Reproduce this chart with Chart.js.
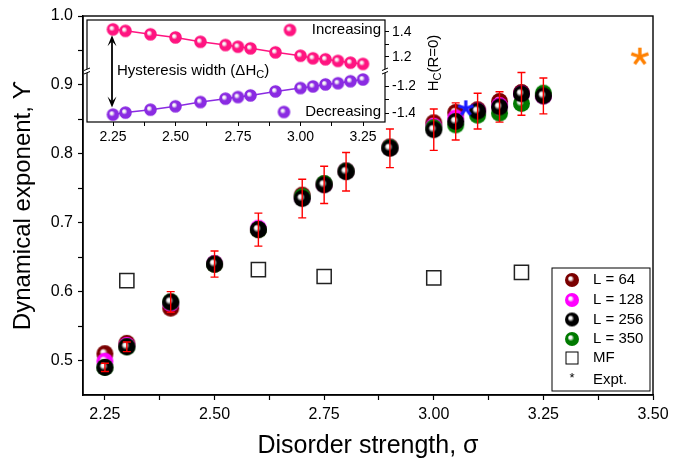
<!DOCTYPE html>
<html>
<head>
<meta charset="utf-8">
<script src="https://cdn.jsdelivr.net/npm/chart.js@4.4.1/dist/chart.umd.min.js"></script>
<style>
body{margin:0;background:#fff}
#wrap{position:relative;width:683px;height:459px}
#wrap canvas{position:absolute;left:0;top:0}
</style>
</head>
<body>
<div id="wrap">
<canvas id="mainChart" width="683" height="459"></canvas>
<canvas id="insetChart" width="683" height="459"></canvas>
</div>
<script>
// ---- data ----
const sigma = [2.25,2.30,2.40,2.50,2.60,2.70,2.75,2.80,2.90,3.00,3.05,3.10,3.15,3.20,3.25]
const gammaL64  = [0.510,0.525,0.576,0.640,0.690,0.740,0.756,0.775,0.810,0.845,0.860,0.864,0.876,0.889,0.885]
const gammaL128 = [0.499,0.522,0.583,0.641,0.692,0.737,0.756,0.775,0.809,0.840,0.852,0.862,0.870,0.887,0.884]
const gammaL256 = [0.490,0.520,0.585,0.640,0.690,0.735,0.755,0.774,0.808,0.835,0.847,0.862,0.868,0.887,0.884]
const gammaL350 = [0.490,0.520,0.585,0.640,0.690,0.738,0.757,0.775,0.809,0.838,0.842,0.856,0.859,0.873,0.888]
const errL256   = [0.006,0.007,0.015,0.019,0.024,0.028,0.027,0.028,0.028,0.030,0.027,0.026,0.022,0.031,0.026]

const sigmaMF = [2.30,2.60,2.75,3.00,3.20]
const gammaMF = [0.616,0.632,0.622,0.620,0.628]

const sigmaExpt = [3.073,3.47]
const gammaExpt = [0.866,0.941]

const xTicks = [2.25,2.50,2.75,3.00,3.25,3.50]
const yTicks = [0.5,0.6,0.7,0.8,0.9,1.0]

// inset: coercive field vs disorder
const hcIncreasing = [1.420,1.408,1.380,1.355,1.320,1.294,1.280,1.267,1.235,1.208,1.187,1.179,1.166,1.152,1.142]
const hcDecreasing = [-1.410,-1.395,-1.373,-1.348,-1.316,-1.291,-1.279,-1.267,-1.237,-1.212,-1.200,-1.185,-1.176,-1.161,-1.148]
const insetXTicks = [2.25,2.50,2.75,3.00,3.25]
const insetTopTicks = [1.2,1.3,1.4]
const insetBotTicks = [-1.4,-1.3,-1.2]
const insetTopLabels = [1.2,1.4]
const insetBotLabels = [-1.2,-1.4]

const FONT = 'Arial, "Liberation Sans", sans-serif'

function withMinors(ticks){
  let out = []
  for(let i=0;i<ticks.length;i++){
    out.push(ticks[i])
    if(i<ticks.length-1) out.push((ticks[i]+ticks[i+1])/2)
  }
  return out
}
function isIn(list, v){ return list.some(t => Math.abs(t-v) < 1e-6) }

function makeBall(color, r){
  const c = document.createElement('canvas')
  const s = Math.ceil(2*r+2)
  c.width = c.height = s
  const g = c.getContext('2d')
  const m = s/2
  const grad = g.createRadialGradient(m-r*0.3, m-r*0.28, 0, m, m, r)
  grad.addColorStop(0, '#ffffff')
  grad.addColorStop(0.2, '#f4f4f4')
  grad.addColorStop(0.48, color)
  grad.addColorStop(1, color)
  g.fillStyle = grad
  g.beginPath(); g.arc(m, m, r, 0, Math.PI*2); g.fill()
  return c
}

function makeStar(color, size, lw){
  const c = document.createElement('canvas')
  c.width = c.height = size+4
  const g = c.getContext('2d')
  const m = c.width/2
  g.strokeStyle = color; g.lineWidth = lw
  for(let k=0;k<5;k++){
    const a = k*2*Math.PI/5
    g.beginPath(); g.moveTo(m,m)
    g.lineTo(m+Math.sin(a)*size/2, m-Math.cos(a)*size/2)
    g.stroke()
  }
  return c
}

const ballL64 = makeBall('#7a0000', 8.5)
const ballL128 = makeBall('#ff00ff', 8.5)
const ballL256 = makeBall('#000000', 8.5)
const ballL350 = makeBall('#007a00', 8.5)
const starBlue = makeStar('#1a1aff', 16, 3.2)
const starOrange = makeStar('#ff8000', 18, 3.4)

const pts = (xs, ys) => xs.map((x,i) => ({x:x, y:ys[i]}))

// red error bars on the L = 256 series
const errorBars = {
  id:'errorBars',
  afterDatasetsDraw(chart){
    const {ctx, scales:{x, y}} = chart
    ctx.save()
    ctx.strokeStyle = '#ff0000'
    ctx.lineWidth = 1.4
    sigma.forEach((s,i) => {
      const px = x.getPixelForValue(s)
      const top = y.getPixelForValue(gammaL256[i]+errL256[i])
      const bot = y.getPixelForValue(gammaL256[i]-errL256[i])
      ctx.beginPath()
      ctx.moveTo(px, top); ctx.lineTo(px, bot)
      ctx.moveTo(px-4, top); ctx.lineTo(px+4, top)
      ctx.moveTo(px-4, bot); ctx.lineTo(px+4, bot)
      ctx.stroke()
    })
    ctx.restore()
  }
}

const frame = {
  id:'frame',
  afterDraw(chart){
    const {ctx, chartArea:a} = chart
    ctx.save()
    ctx.strokeStyle = '#000'; ctx.lineWidth = 1.4
    ctx.strokeRect(a.left, a.top, a.right-a.left, a.bottom-a.top)
    ctx.restore()
  }
}

const boxLegend = {
  id:'boxLegend',
  afterDraw(chart){
    const {ctx, chartArea:a} = chart
    const right = a.right-3, bottom = a.bottom-4
    const left = right-98, top = bottom-123
    ctx.save()
    ctx.fillStyle = '#fff'
    ctx.fillRect(left, top, right-left, bottom-top)
    ctx.strokeStyle = '#000'; ctx.lineWidth = 1
    ctx.strokeRect(left, top, right-left, bottom-top)
    const rows = [12, 32, 51.5, 71, 90, 112]
    ctx.font = '15px ' + FONT
    ctx.textBaseline = 'middle'
    chart.data.datasets.forEach((ds, i) => {
      const cy = top + rows[i], cx = left + 20
      if(ds.legendMark === 'ball'){
        const img = makeBall(ds.ballColor, 7)
        ctx.drawImage(img, cx-img.width/2, cy-img.height/2)
      } else if(ds.legendMark === 'square'){
        ctx.strokeStyle = '#000'; ctx.lineWidth = 1
        ctx.strokeRect(cx-6, cy-6, 12, 12)
      } else {
        ctx.fillStyle = '#000'
        ctx.textAlign = 'center'
        ctx.font = '13px ' + FONT
        ctx.fillText('*', cx, cy-2)
        ctx.font = '15px ' + FONT
      }
      ctx.fillStyle = '#000'
      ctx.textAlign = 'left'
      ctx.fillText(ds.label, left+41, cy)
    })
    ctx.restore()
  }
}

new Chart(document.getElementById('mainChart'), {
  type:'scatter',
  data:{
    datasets:[
      {label:'L = 64', data:pts(sigma, gammaL64), pointStyle:ballL64, pointRadius:8, order:4, legendMark:'ball', ballColor:'#7a0000'},
      {label:'L = 128', data:pts(sigma, gammaL128), pointStyle:ballL128, pointRadius:8, order:3, legendMark:'ball', ballColor:'#ff00ff'},
      {label:'L = 256', data:pts(sigma, gammaL256), pointStyle:ballL256, pointRadius:8, order:1, legendMark:'ball', ballColor:'#000000'},
      {label:'L = 350', data:pts(sigma, gammaL350), pointStyle:ballL350, pointRadius:8, order:2, legendMark:'ball', ballColor:'#007a00'},
      {label:'MF', data:pts(sigmaMF, gammaMF), pointStyle:'rect', pointRadius:10, backgroundColor:'#fff', borderColor:'#222', borderWidth:1.5, order:5, legendMark:'square'},
      {label:'Expt.', data:pts(sigmaExpt, gammaExpt), pointStyle:[starBlue, starOrange], pointRadius:8, order:0, legendMark:'star'}
    ]
  },
  options:{
    responsive:false,
    animation:false,
    layout:{padding:{top:16, right:30, left:0, bottom:0}},
    plugins:{legend:{display:false}, tooltip:{enabled:false}},
    scales:{
      x:{
        type:'linear', min:2.2, max:3.5,
        afterFit:s => { s.height = 64 },
        afterBuildTicks:s => { s.ticks = withMinors(xTicks).map(v => ({value:v})) },
        ticks:{autoSkip:false, maxRotation:0, padding:5, color:'#000', font:{family:FONT, size:16},
          callback:v => isIn(xTicks, v) ? v.toFixed(2) : ''},
        grid:{drawOnChartArea:false, drawTicks:true, tickLength:5, tickColor:'#000', tickWidth:1.2},
        border:{display:true, color:'#000', width:1.4},
        title:{display:true, text:'Disorder strength, σ', color:'#000', font:{family:FONT, size:25, lineHeight:1}, padding:{top:0, bottom:0}}
      },
      y:{
        type:'linear', min:0.45, max:1.0,
        afterFit:s => { s.width = 83 },
        afterBuildTicks:s => { s.ticks = withMinors(yTicks).map(v => ({value:v})) },
        ticks:{autoSkip:false, padding:5, color:'#000', font:{family:FONT, size:16},
          callback:v => isIn(yTicks, v) ? v.toFixed(1) : ''},
        grid:{drawOnChartArea:false, drawTicks:true, tickLength:5, tickColor:'#000', tickWidth:1.2},
        border:{display:true, color:'#000', width:1.4},
        title:{display:true, text:'Dynamical exponent, ϒ', color:'#000', font:{family:FONT, size:24, lineHeight:1}, padding:{top:11, bottom:0}}
      }
    }
  },
  plugins:[frame, errorBars, boxLegend]
})

// ---- inset ----
const PINK = '#ff1480'
const PURPLE = '#8a2be2'
const ballPink = makeBall(PINK, 6.3)
const ballPurple = makeBall(PURPLE, 6.3)

const insetDecor = {
  id:'insetDecor',
  beforeDraw(chart){
    const {ctx, chartArea:a} = chart
    ctx.save(); ctx.fillStyle = '#fff'
    ctx.fillRect(a.left, a.top, a.right-a.left, a.bottom-a.top)
    ctx.restore()
  },
  afterDraw(chart){
    const {ctx, chartArea:a, scales} = chart
    ctx.save()
    ctx.strokeStyle = '#000'; ctx.lineWidth = 1.2
    ctx.strokeRect(a.left, a.top, a.right-a.left, a.bottom-a.top)
    // axis break marks between the two stacked segments
    const yb = scales.yTop.bottom
    ;[a.left, a.right].forEach(bx => {
      ctx.fillStyle = '#fff'
      ctx.fillRect(bx-2, yb-2, 4, 4)
      ctx.lineWidth = 1
      ctx.beginPath()
      ctx.moveTo(bx-3, yb-0.5); ctx.lineTo(bx+3, yb-3)
      ctx.moveTo(bx-3, yb+3); ctx.lineTo(bx+3, yb+0.5)
      ctx.stroke()
    })
    // double arrow = hysteresis width
    const ax = scales.x.getPixelForValue(insetXTicks[0]) - 1
    const yA = scales.yTop.getPixelForValue(hcIncreasing[0]) + 6
    const yB = scales.yBot.getPixelForValue(hcDecreasing[0]) - 7
    ctx.strokeStyle = '#000'; ctx.fillStyle = '#000'; ctx.lineWidth = 1.8
    ctx.beginPath(); ctx.moveTo(ax, yA+4); ctx.lineTo(ax, yB-4); ctx.stroke()
    ctx.beginPath(); ctx.moveTo(ax, yA); ctx.lineTo(ax-4.5, yA+11); ctx.lineTo(ax, yA+6); ctx.lineTo(ax+4.5, yA+11); ctx.closePath(); ctx.fill()
    ctx.beginPath(); ctx.moveTo(ax, yB); ctx.lineTo(ax-4.5, yB-11); ctx.lineTo(ax, yB-6); ctx.lineTo(ax+4.5, yB-11); ctx.closePath(); ctx.fill()
    // label
    ctx.textBaseline = 'middle'; ctx.textAlign = 'left'
    ctx.font = '15px ' + FONT
    let tx = ax + 5
    const t1 = 'Hysteresis width (ΔH'
    ctx.fillText(t1, tx, yb); tx += ctx.measureText(t1).width
    ctx.font = '11px ' + FONT
    ctx.fillText('C', tx, yb+4); tx += ctx.measureText('C').width
    ctx.font = '15px ' + FONT
    ctx.fillText(')', tx, yb)
    // inset legend
    ctx.textAlign = 'right'
    ctx.drawImage(ballPink, a.right-95-ballPink.width/2, a.top+10-ballPink.height/2)
    ctx.fillText('Increasing', a.right-4, a.top+10)
    ctx.drawImage(ballPurple, a.right-101-ballPurple.width/2, a.bottom-10-ballPurple.height/2)
    ctx.fillText('Decreasing', a.right-4, a.bottom-10)
    // right axis title H_C(R=0)
    ctx.translate(a.right+49, (a.top+a.bottom)/2 - 8)
    ctx.rotate(-Math.PI/2)
    ctx.textAlign = 'left'
    ctx.font = '15px ' + FONT
    const wH = ctx.measureText('H').width, wR = ctx.measureText('(R=0)').width
    ctx.font = '11px ' + FONT
    const wC = ctx.measureText('C').width
    let sx = -(wH+wC+wR)/2
    ctx.font = '15px ' + FONT
    ctx.fillText('H', sx, 0); sx += wH
    ctx.font = '11px ' + FONT
    ctx.fillText('C', sx, 4); sx += wC
    ctx.font = '15px ' + FONT
    ctx.fillText('(R=0)', sx, 0)
    ctx.restore()
  }
}

const insetAxisGrid = {drawOnChartArea:false, drawTicks:true, tickLength:4, tickColor:'#000', tickWidth:1}

new Chart(document.getElementById('insetChart'), {
  type:'scatter',
  data:{
    datasets:[
      {label:'Increasing', data:pts(sigma, hcIncreasing), yAxisID:'yTop', showLine:true, borderColor:PINK, borderWidth:1.5, pointStyle:ballPink, pointRadius:6},
      {label:'Decreasing', data:pts(sigma, hcDecreasing), yAxisID:'yBot', showLine:true, borderColor:PURPLE, borderWidth:1.5, pointStyle:ballPurple, pointRadius:6}
    ]
  },
  options:{
    responsive:false,
    animation:false,
    layout:{padding:{left:87, top:20, right:268, bottom:317}},
    plugins:{legend:{display:false}, tooltip:{enabled:false}},
    scales:{
      x:{
        type:'linear', min:2.146, max:3.338,
        afterFit:s => { s.height = 20 },
        afterBuildTicks:s => { s.ticks = withMinors(insetXTicks).map(v => ({value:v})) },
        ticks:{autoSkip:false, maxRotation:0, padding:3, color:'#000', font:{family:FONT, size:14},
          callback:v => isIn(insetXTicks, v) ? v.toFixed(2) : ''},
        grid:insetAxisGrid,
        border:{display:false}
      },
      yTop:{
        type:'linear', position:'right', stack:'hc', stackWeight:1, min:1.085, max:1.495,
        afterFit:s => { s.width = 30 },
        afterBuildTicks:s => { s.ticks = insetTopTicks.map(v => ({value:v})) },
        ticks:{autoSkip:false, padding:3, color:'#000', font:{family:FONT, size:14},
          callback:v => isIn(insetTopLabels, v) ? v.toFixed(1) : ''},
        grid:insetAxisGrid,
        border:{display:false}
      },
      yBot:{
        type:'linear', position:'right', stack:'hc', stackWeight:1, min:-1.465, max:-1.085,
        afterFit:s => { s.width = 30 },
        afterBuildTicks:s => { s.ticks = insetBotTicks.map(v => ({value:v})) },
        ticks:{autoSkip:false, padding:3, color:'#000', font:{family:FONT, size:14},
          callback:v => isIn(insetBotLabels, v) ? v.toFixed(1) : ''},
        grid:insetAxisGrid,
        border:{display:false}
      }
    }
  },
  plugins:[insetDecor]
})
</script>
</body>
</html>
